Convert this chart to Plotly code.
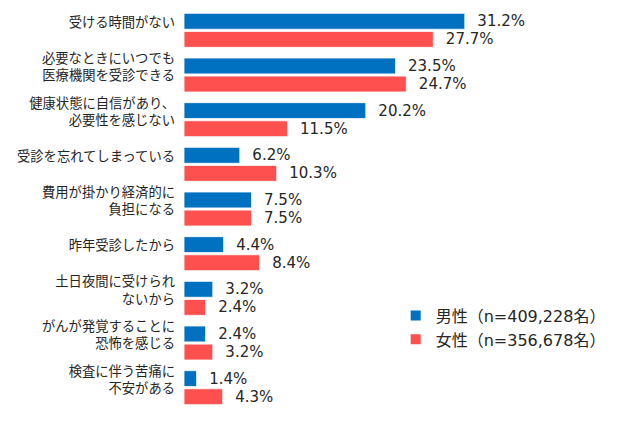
import plotly.graph_objects as go

categories = [
    "受ける時間がない",
    "必要なときにいつでも<br>医療機関を受診できる",
    "健康状態に自信があり、<br>必要性を感じない",
    "受診を忘れてしまっている",
    "費用が掛かり経済的に<br>負担になる",
    "昨年受診したから",
    "土日夜間に受けられ<br>ないから",
    "がんが発覚することに<br>恐怖を感じる",
    "検査に伴う苦痛に<br>不安がある",
]
male = [31.2, 23.5, 20.2, 6.2, 7.5, 4.4, 3.2, 2.4, 1.4]
female = [27.7, 24.7, 11.5, 10.3, 7.5, 8.4, 2.4, 3.2, 4.3]
male_name = "男性（n=409,228名）"
female_name = "女性（n=356,678名）"

BLUE = "#0070C0"
RED = "#FF5050"
TXT = "#262626"
VFONT = dict(family="DejaVu Sans, Noto Sans CJK JP", size=15, color=TXT)

fig = go.Figure()
for name, vals, col in [(male_name, male, BLUE), (female_name, female, RED)]:
    fig.add_trace(go.Bar(
        y=categories, x=vals, name=name, orientation="h",
        marker=dict(color=col, line=dict(color="white", width=0.8)),
        texttemplate="\u00a0\u00a0%{x:.1f}%", textposition="outside",
        textfont=VFONT, cliponaxis=False, constraintext="none",
    ))

fig.update_layout(
    width=623, height=433,
    margin=dict(l=176, r=87, t=0, b=31, autoexpand=False),
    paper_bgcolor="white", plot_bgcolor="white",
    barmode="group", bargap=0.19, bargroupgap=0.12,
    showlegend=True,
    legend=dict(
        x=0.588, y=0.205, xanchor="left", yanchor="middle",
        font=dict(family="DejaVu Sans, Noto Sans CJK JP", size=16, color=TXT),
        bgcolor="rgba(0,0,0,0)", tracegroupgap=0, itemsizing="constant",
    ),
    font=dict(family="Noto Sans CJK JP", color=TXT),
)
fig.update_xaxes(range=[0, 40], showgrid=False, showticklabels=False,
                 zeroline=False, showline=False, ticks="", automargin=False)
fig.update_yaxes(autorange="reversed", showgrid=False, showline=False,
                 ticks="", ticklabelstandoff=8, ticklabelshift=8, automargin=False,
                 tickfont=dict(family="Noto Sans CJK JP", size=13.3, color=TXT))

fig.write_html("out.html")
